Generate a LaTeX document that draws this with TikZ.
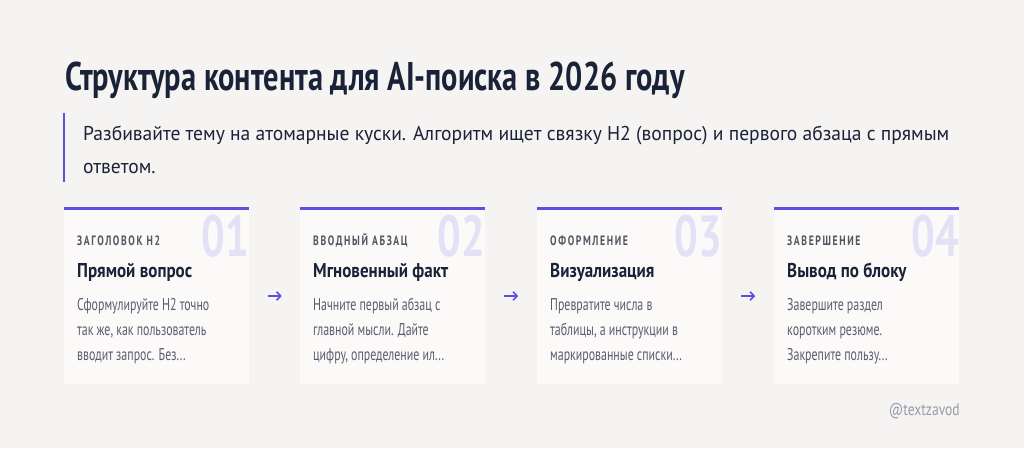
\documentclass[tikz,border=0pt]{standalone}
\usepackage{fontspec}
\setmainfont{PT Sans}[FakeStretch=0.8]
\newfontfamily\titlefont{PT Sans}[FakeStretch=0.76]
\newfontfamily\subfont{PT Sans}[FakeStretch=0.978]
\newfontfamily\numfont{PT Sans}[FakeStretch=0.72]
\newfontfamily\lblfont{PT Sans}[FakeStretch=0.72, LetterSpace=12]
\newfontfamily\headfont{PT Sans}[FakeStretch=0.85]
\newfontfamily\bodyfont{PT Sans}[FakeStretch=0.7]
\usetikzlibrary{arrows.meta}
\definecolor{bg}{HTML}{F5F4F2}
\definecolor{cardbg}{HTML}{FBFAF9}
\definecolor{navy}{HTML}{1A2238}
\definecolor{accent}{HTML}{5B50E0}
\definecolor{numc}{HTML}{E3E1F5}
\definecolor{lblc}{HTML}{555560}
\definecolor{bodyc}{HTML}{5C5C70}
\definecolor{signc}{HTML}{9A9AAA}
\tikzset{
  card/.style={fill=cardbg, draw=none, minimum width=185pt, minimum height=176pt, anchor=north west, inner sep=0pt},
  topline/.style={draw=accent, line width=3pt},
  bignum/.style={anchor=base east, inner sep=0pt, text=numc, font=\numfont\fontsize{58}{58}\selectfont\bfseries},
  lbl/.style={anchor=base west, inner sep=0pt, text=lblc, font=\lblfont\fontsize{13.5}{13.5}\selectfont\bfseries},
  head/.style={anchor=base west, inner sep=0pt, text=navy, font=\headfont\fontsize{20}{20}\selectfont\bfseries},
  body/.style={anchor=base west, inner sep=0pt, text=bodyc, font=\bodyfont\fontsize{17}{25}\selectfont, align=left},
  arr/.style={draw=accent, line width=1.6pt, -{Straight Barb[length=4pt,width=8.5pt]}}
}
\begin{document}
\begin{tikzpicture}[x=1pt,y=-1pt]
\useasboundingbox[fill=bg] (0,0) rectangle (1024,448);
\node[anchor=base west, inner sep=0pt, text=navy, font=\titlefont\fontsize{40}{40}\selectfont\bfseries] (title) at (65,90) {Структура контента для AI-поиска в 2026 году};
\draw[accent, line width=2.5pt] (64,113) -- (64,182);
\node[anchor=base west, inner sep=0pt, text=navy, font=\subfont\fontsize{20}{33}\selectfont, align=left] (sub) at (83,173) {Разбивайте тему на атомарные куски. Алгоритм ищет связку H2 (вопрос) и первого абзаца с прямым\\ответом.};
\foreach \i/\x/\num/\lab/\hd/\bd in {
  1/64/01/ЗАГОЛОВОК H2/Прямой вопрос/{Сформулируйте H2 точно\\так же, как пользователь\\вводит запрос. Без...},
  2/300/02/ВВОДНЫЙ АБЗАЦ/Мгновенный факт/{Начните первый абзац с\\главной мысли. Дайте\\цифру, определение ил...},
  3/537/03/ОФОРМЛЕНИЕ/Визуализация/{Превратите числа в\\таблицы, а инструкции в\\маркированные списки...},
  4/774/04/ЗАВЕРШЕНИЕ/Вывод по блоку/{Завершите раздел\\коротким резюме.\\Закрепите пользу...}}
{
  \node[card] (c\i) at (\x,208) {};
  \draw[topline] (c\i.north west) -- (c\i.north east);
  \node[bignum] (n\i) at (c\i.north east |- 0,256) {\num};
  \node[lbl] (l\i) at (\x+13,245) {\lab};
  \node[head] (h\i) at (\x+13,277) {\hd};
  \node[body] (b\i) at (\x+13,360) {\bd};
}
\path (c1.east) -- (c2.west) coordinate[pos=0.5] (m1);
\path (c2.east) -- (c3.west) coordinate[pos=0.5] (m2);
\path (c3.east) -- (c4.west) coordinate[pos=0.5] (m3);
\foreach \k in {1,2,3}{
  \coordinate (as\k) at ([xshift=-7pt]m\k |- 0,296);
  \coordinate (ae\k) at ([xshift=7pt]m\k |- 0,296);
  \draw[arr] (as\k) -- (ae\k);
}
\node[anchor=base east, inner sep=0pt, text=signc, font=\fontsize{17}{17}\selectfont] (sign) at (960,415) {@textzavod};
\end{tikzpicture}
\end{document}
